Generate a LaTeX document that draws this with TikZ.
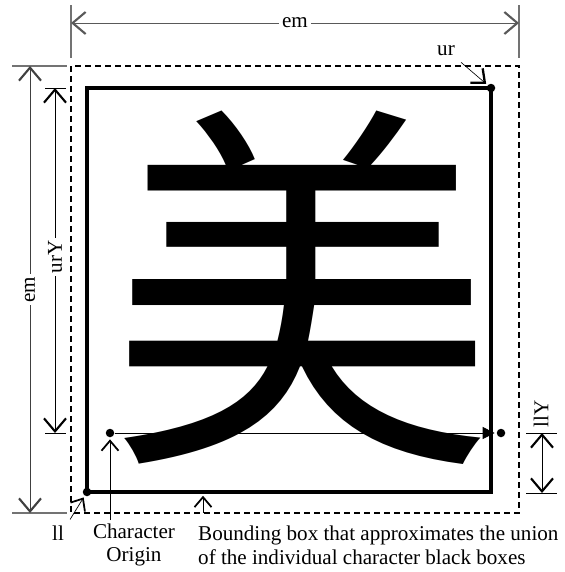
\documentclass[tikz,border=0pt]{standalone}
\usepackage{fontspec}
\setmainfont{Liberation Serif}
\newfontfamily\cjkfont{Noto Sans CJK JP}
\usetikzlibrary{arrows.meta}

\begin{document}
\begin{tikzpicture}
    [x=0.2mm,y=-0.2mm,font=\fontsize{12}{13.6}\selectfont,
     dot/.style={circle,fill,inner sep=0pt,minimum size=1.7mm},
     extline/.style={line width=0.6pt,draw=black!55},
     dimline/.style={line width=0.5pt,{Straight Barb[length=2.6mm,width=4.4mm,line width=1.2pt]}-{Straight Barb[length=2.6mm,width=4.4mm,line width=1.2pt]}},
     pointer/.style={line width=0.4pt,shorten >=1pt,-{Straight Barb[length=2mm,width=3.4mm,line width=1pt]}},
     dimlabel/.style={fill=white,inner sep=1.5pt}]

    \useasboundingbox (0,0) rectangle (565,572);

    % the character itself:
    \node (glyph) at (302,288) [inner sep=0pt,font=\cjkfont\fontsize{218}{218}\selectfont] {美};

    % em box and bounding box:
    \draw [dash pattern=on 1.2mm off 0.8mm,line width=0.7pt] (71,66) rectangle (519,513);
    \draw [line width=2.1pt] (87,88) rectangle (491,492);

    % corner and origin points:
    \node (ll) at (87,492) [dot] {};
    \node (ur) at (491,88) [dot] {};
    \node (origin) at (110,433) [dot] {};
    \node (advance) at (501,433) [dot] {};

    % em across the top:
    \coordinate (emL) at (71,23);
    \coordinate (emR) at (519,23);
    \draw [extline] (71,5) -- (71,58);
    \draw [extline] (519,5) -- (519,58);
    \draw [dimline,draw=black!65] (emL) -- node [dimlabel] {em} (emR);

    % em down the left:
    \coordinate (emT) at (30,66);
    \coordinate (emB) at (30,513);
    \draw [extline] (12,66) -- (67,66);
    \draw [extline] (12,513) -- (67,513);
    \draw [dimline,draw=black!75] (emT) -- node [dimlabel,rotate=90] {em} (emB);

    % urY:
    \coordinate (urYT) at (55,88);
    \coordinate (urYB) at (55,433);
    \draw [line width=0.5pt] (45,88) -- (66,88);
    \draw [line width=0.5pt] (45,433) -- (66,433);
    \draw [dimline] (urYT) -- node [dimlabel,pos=0.49,rotate=90] {urY} (urYB);

    % llY:
    \coordinate (llYT) at (542,433);
    \coordinate (llYB) at (542,493);
    \draw [line width=0.5pt] (526,433) -- (557,433);
    \draw [line width=0.5pt] (526,493) -- (557,493);
    \draw [dimline] (llYT) -- (llYB);
    \node (llYlabel) at (541,414) [rotate=90] {llY};

    % escapement line from the origin:
    \draw [line width=0.5pt,-{Triangle[length=2.4mm,width=2.4mm]},shorten >=1pt] (origin) -- (advance);

    % labels:
    \node (urlabel) at (446,51) {ur};
    \draw [pointer,line width=0.35pt,-{Straight Barb[length=2.2mm,width=3.8mm,line width=1.3pt]}] (urlabel.south east) -- (ur);

    \node (lllabel) at (58,533) {ll};
    \draw [pointer] (lllabel.north east) -- (ll);

    \node (origlabel) at (134,545) [align=center] {Character\\Origin};
    \coordinate (origtail) at (110,520);
    \draw [pointer] (origtail) -- (origin);

    \node (bboxlabel) at (192,545) [anchor=west,align=left] {Bounding box that approximates the union\\of the individual character black boxes};
    \coordinate (bboxtail) at (203,513);
    \coordinate (bboxedge) at (203,494);
    \draw [pointer] (bboxtail) -- (bboxedge);

  \end{tikzpicture}
\end{document}
